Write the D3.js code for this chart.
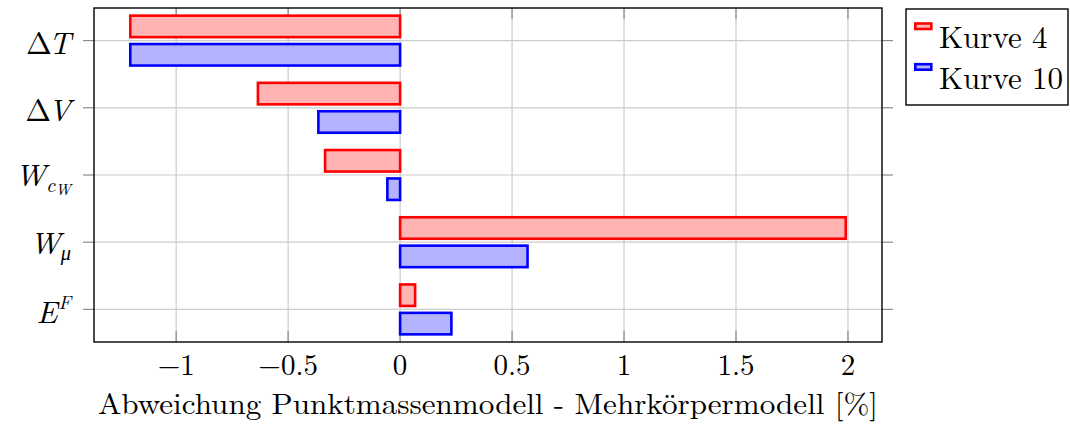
<!DOCTYPE html>
<html>
<head>
<meta charset="utf-8">
<script src="https://cdn.jsdelivr.net/npm/d3@7"></script>
<style>
  html, body { margin: 0; padding: 0; background: #fff; }
  svg { display: block; }
</style>
</head>
<body>
<svg id="chart" width="1070" height="432"></svg>
<script>
// Categories (top to bottom) and their math-style label parts
const categories = ["dT", "dV", "WcW", "Wmu", "EF"];
const seriesNames = ["Kurve 4", "Kurve 10"];
// Deviation point-mass model vs. multibody model, in percent
const kurve4 = [-1.205, -0.635, -0.335, 1.99, 0.067];
const kurve10 = [-1.205, -0.365, -0.057, 0.569, 0.229];
const xTicks = [-1, -0.5, 0, 0.5, 1, 1.5, 2];
const xTitle = "Abweichung Punktmassenmodell - Mehrkörpermodell [%]";

const FONT = "Latin Modern Roman, Liberation Serif, serif";

const styles = [
  { stroke: "#ff0000", fill: "#ffb3b3" },
  { stroke: "#0000ff", fill: "#b3b3ff" }
];

// Label pieces: [text, italic?, role]
const labelParts = {
  dT:  [["Δ", false, "base"], ["T", true, "afterDelta"]],
  dV:  [["Δ", false, "base"], ["V", true, "afterDelta"]],
  WcW: [["W", true, "base"], ["c", true, "sub"], ["W", true, "subsub"]],
  Wmu: [["W", true, "base"], ["μ", true, "sub"]],
  EF:  [["E", true, "base"], ["F", true, "sup"]]
};

// typesetting of each role: size factor, baseline shift (em of base), horizontal nudge (px)
const baseSize = 31;
const roleStyle = {
  base:       { k: 1,    shift: 0,     dx: 0 },
  afterDelta: { k: 1,    shift: 0,     dx: -3 },
  sub:        { k: 0.66, shift: 0.2,   dx: 0 },
  subsub:     { k: 0.5,  shift: 0.3,   dx: 0 },
  sup:        { k: 0.62, shift: -0.45, dx: 1 }
};

const svg = d3.select("#chart");
const plot = { left: 94, right: 882, top: 8, bottom: 342 };

const x = d3.scaleLinear().domain([-1.367, 2.152]).range([plot.left, plot.right]);
const y = d3.scalePoint().domain(categories).range([plot.top, plot.bottom]).padding(0.485);
const inner = d3.scaleBand().domain(seriesNames).range([-24.95, 24.95]).paddingInner(0.243);

const grid = svg.append("g");
// vertical grid lines
grid.selectAll("line.vx").data(xTicks).join("line")
  .attr("x1", d => x(d)).attr("x2", d => x(d))
  .attr("y1", plot.top).attr("y2", plot.bottom)
  .attr("stroke", "#cccccc").attr("stroke-width", 1.2);
// horizontal grid lines
grid.selectAll("line.hy").data(categories).join("line")
  .attr("x1", plot.left).attr("x2", plot.right)
  .attr("y1", d => y(d)).attr("y2", d => y(d))
  .attr("stroke", "#cccccc").attr("stroke-width", 1.2);

// y ticks, outside on both sides
const tickCol = "#8c8c8c";
grid.selectAll("line.tl").data(categories).join("line")
  .attr("x1", plot.left - 11).attr("x2", plot.left)
  .attr("y1", d => y(d)).attr("y2", d => y(d))
  .attr("stroke", tickCol).attr("stroke-width", 1.2);
grid.selectAll("line.tr").data(categories).join("line")
  .attr("x1", plot.right).attr("x2", plot.right + 11)
  .attr("y1", d => y(d)).attr("y2", d => y(d))
  .attr("stroke", tickCol).attr("stroke-width", 1.2);
// x ticks, inside at top and bottom
grid.selectAll("line.tb").data(xTicks).join("line")
  .attr("x1", d => x(d)).attr("x2", d => x(d))
  .attr("y1", plot.bottom - 11).attr("y2", plot.bottom)
  .attr("stroke", tickCol).attr("stroke-width", 1.2);
grid.selectAll("line.tt").data(xTicks).join("line")
  .attr("x1", d => x(d)).attr("x2", d => x(d))
  .attr("y1", plot.top).attr("y2", plot.top + 11)
  .attr("stroke", tickCol).attr("stroke-width", 1.2);

// bars
const seriesData = [kurve4, kurve10];
const bh = inner.bandwidth();
seriesData.forEach((vals, si) => {
  svg.append("g").selectAll("rect").data(vals).join("rect")
    .attr("x", d => Math.min(x(0), x(d)))
    .attr("width", d => Math.abs(x(d) - x(0)))
    .attr("y", (d, i) => y(categories[i]) + inner(seriesNames[si]))
    .attr("height", bh)
    .attr("fill", styles[si].fill)
    .attr("stroke", styles[si].stroke)
    .attr("stroke-width", 2.6);
});

// frame
svg.append("rect")
  .attr("x", plot.left).attr("y", plot.top)
  .attr("width", plot.right - plot.left).attr("height", plot.bottom - plot.top)
  .attr("fill", "none").attr("stroke", "#000").attr("stroke-width", 1.4);

// x tick labels
const fmt = d => (d < 0 ? "\u2212" : "") + String(Math.abs(d));
svg.append("g").selectAll("text").data(xTicks).join("text")
  .attr("x", d => x(d)).attr("y", 374.5)
  .attr("text-anchor", "middle")
  .attr("font-family", FONT).attr("font-size", 29)
  .text(fmt);

// x axis title
svg.append("text")
  .attr("x", (plot.left + plot.right) / 2).attr("y", 414)
  .attr("text-anchor", "middle")
  .attr("font-family", FONT).attr("font-size", 29)
  .attr("textLength", 780).attr("lengthAdjust", "spacingAndGlyphs")
  .text(xTitle);

// y category labels, vertically centred on their tick
categories.forEach(c => {
  const t = svg.append("text")
    .attr("x", 71).attr("y", y(c))
    .attr("text-anchor", "end")
    .attr("font-family", FONT);
  let prevShift = 0;
  labelParts[c].forEach(([txt, it, role]) => {
    const rs = roleStyle[role];
    const sh = rs.shift * baseSize;
    t.append("tspan")
      .attr("dy", sh - prevShift)
      .attr("dx", rs.dx)
      .attr("font-family", FONT)
      .attr("font-size", baseSize * rs.k)
      .attr("font-style", it ? "italic" : "normal")
      .text(txt);
    prevShift = sh;
  });
  const bb = t.node().getBBox();
  const cy = bb.y + bb.height / 2;
  t.attr("y", y(c) + (y(c) - cy));
});

// legend
const lg = svg.append("g");
lg.append("rect")
  .attr("x", 906).attr("y", 9).attr("width", 162).attr("height", 96)
  .attr("fill", "#fff").attr("stroke", "#000").attr("stroke-width", 1.4);
const rowBase = [48.3, 89];
seriesNames.forEach((name, i) => {
  const b = rowBase[i];
  const g = lg.append("g");
  // zero-length bar (vertical stub) and short bar, as in an xbar legend image
  g.append("rect")
    .attr("x", 915.3).attr("y", b - 30.3).attr("width", 0).attr("height", 6)
    .attr("fill", styles[i].fill).attr("stroke", styles[i].stroke).attr("stroke-width", 2.6);
  g.append("rect")
    .attr("x", 915.3).attr("y", b - 24.8).attr("width", 16).attr("height", 5.5)
    .attr("fill", styles[i].fill).attr("stroke", styles[i].stroke).attr("stroke-width", 2.6);
  lg.append("text")
    .attr("x", 939).attr("y", b)
    .attr("font-family", FONT).attr("font-size", 31)
    .text(name);
});
</script>
</body>
</html>
